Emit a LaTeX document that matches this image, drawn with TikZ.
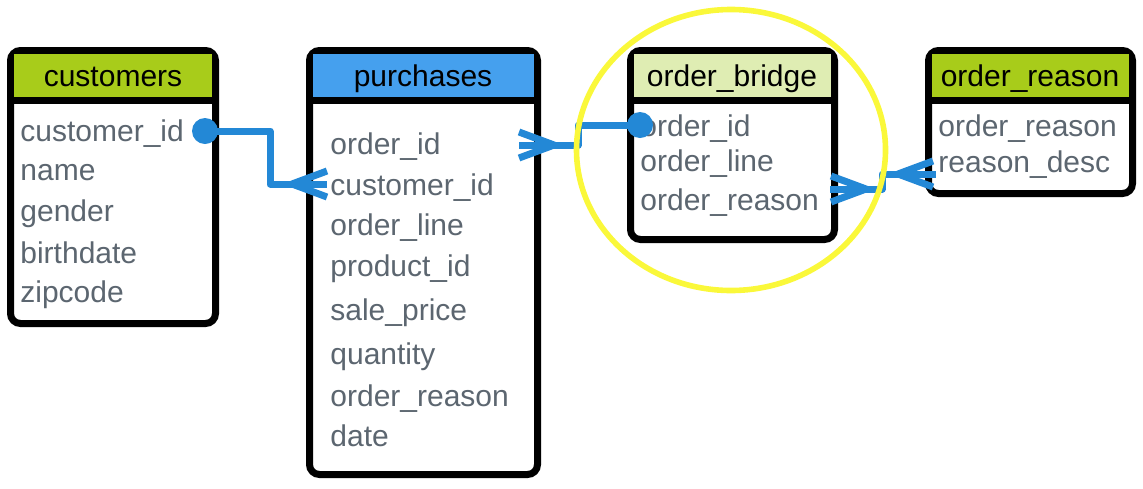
\documentclass[tikz,border=0pt]{standalone}
\usepackage{fontspec}
\setmainfont{Liberation Sans}
\definecolor{erdlime}{HTML}{A8CC1A}
\definecolor{erdsky}{HTML}{45A0EE}
\definecolor{erdpale}{HTML}{DFEDB3}
\definecolor{erdlink}{HTML}{2388D6}
\definecolor{erdtext}{HTML}{5C6670}
\definecolor{erdmark}{HTML}{FAF83A}
\tikzset{
  erd frame/.style={draw=black, fill=white, line width=3.5pt, rounded corners=5pt},
  erd rule/.style={draw=black, line width=3.5pt},
  erd title/.style={font=\fontsize{15}{18}\selectfont, text=black, inner sep=0pt,
    text height=0.95em, text depth=0pt},
  erd field/.style={font=\fontsize{15}{18}\selectfont, text=erdtext, inner sep=0pt,
    text height=0.95em, text depth=0pt, anchor=west},
  erd link/.style={draw=erdlink, line width=3.5pt, line join=round},
  erd dot/.style={circle, fill=erdlink, inner sep=0pt, minimum size=13pt},
  erd highlight/.style={draw=erdmark, line width=2.8pt},
  crow/.pic={\draw[erd link] (35,-13) -- (0,0) -- (35,13);},
}

\begin{document}
\begin{tikzpicture}[x=0.5pt, y=-0.5pt]
  \useasboundingbox (0,0) rectangle (1143,488);

  % customers
  \draw[erd frame] (10.5,50.5) rectangle (215.5,323.5);
  \fill[erdlime] (14,54) rectangle (212,97);
  \draw[erd rule] (10.5,100) -- (215.5,100);
  \node[erd title] (cust) at (113,77) {customers};
  \foreach \y/\t/\n in {132/customer\_id/id, 171/name/name, 212/gender/gender,
      254/birthdate/birth, 293/zipcode/zip}
    \node[erd field] (cust-\n) at (20,\y) {\t};

  % purchases
  \draw[erd frame] (309.5,50.5) rectangle (537.5,474.5);
  \fill[erdsky] (313,54) rectangle (534,97);
  \draw[erd rule] (309.5,100) -- (537.5,100);
  \node[erd title] (purch) at (423,77) {purchases};
  \foreach \y/\t/\n in {145/order\_id/order, 186/customer\_id/cust, 226/order\_line/line,
      267/product\_id/prod, 311/sale\_price/price, 355/quantity/qty,
      397/order\_reason/reason, 437/date/date}
    \node[erd field] (purch-\n) at (330,\y) {\t};

  % order_bridge
  \draw[erd frame] (630.5,50.5) rectangle (834.5,239.5);
  \fill[erdpale] (634,54) rectangle (831,97);
  \draw[erd rule] (630.5,100) -- (834.5,100);
  \node[erd title] (bridge) at (732,77) {order\_bridge};
  \foreach \y/\t/\n in {127/order\_id/order, 162/order\_line/line, 201/order\_reason/reason}
    \node[erd field] (bridge-\n) at (640,\y) {\t};

  % order_reason
  \draw[erd frame] (928.5,50.5) rectangle (1132.5,193.5);
  \fill[erdlime] (932,54) rectangle (1129,97);
  \draw[erd rule] (928.5,100) -- (1132.5,100);
  \node[erd title] (reason) at (1030,77) {order\_reason};
  \foreach \y/\t/\n in {127/order\_reason/reason, 163/reason\_desc/desc}
    \node[erd field] (reason-\n) at (938,\y) {\t};

  % customers -> purchases
  \node[erd dot] (d1) at (205,131) {};
  \coordinate (k1) at (270,184);
  \coordinate (f1) at (327,184);
  \draw[erd link] (d1.center) -| (k1) -- (f1);
  \pic at (292,184) {crow};

  % purchases -> order_bridge
  \node[erd dot] (d2) at (640,125) {};
  \coordinate (f2) at (519,145);
  \coordinate (k2) at (578,145);
  \draw[erd link] (f2) -- (k2) |- (d2.center);
  \pic[rotate=180] at (554,145) {crow};

  % order_bridge -> order_reason
  \coordinate (f3) at (830,189);
  \coordinate (k3) at (882,189);
  \coordinate (g3) at (936,174);
  \draw[erd link] (f3) -- (k3) |- (g3);
  \pic[rotate=180] at (866,189) {crow};
  \pic at (898,174) {crow};

  \draw[erd highlight] (731,150) ellipse [x radius=154.5, y radius=140.5];
\end{tikzpicture}
\end{document}
